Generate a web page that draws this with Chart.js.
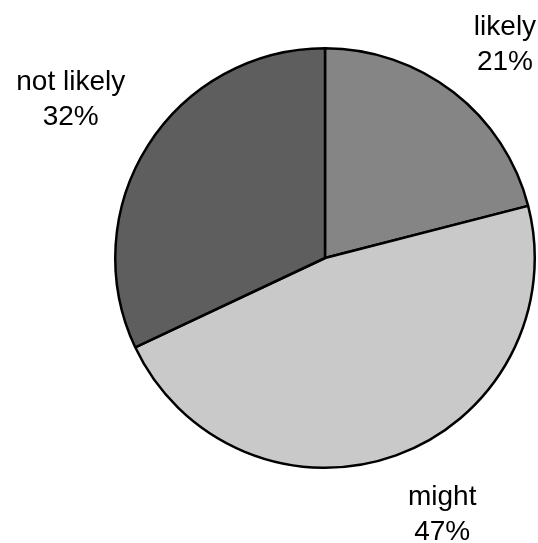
<!DOCTYPE html>
<html>
<head>
<meta charset="utf-8">
<script src="https://cdn.jsdelivr.net/npm/chart.js@4"></script>
<style>
html,body{margin:0;padding:0;background:#fff;}
#wrap{width:538px;height:543px;}
</style>
</head>
<body>
<div id="wrap"><canvas id="c" width="538" height="543"></canvas></div>
<script>
const categories = ["likely", "might", "not likely"];
const values = [21, 47, 32];
const sliceColors = ["#858585", "#c9c9c9", "#5e5e5e"];

// label placement (style only): distance factor from centre and pixel nudge
const labelLayout = [
  {f: 1.33, dx: 9, dy: 7},
  {f: 1.34, dx: 22, dy: -8},
  {f: 1.43, dx: -1, dy: 2}
];

const outsideLabels = {
  id: 'outsideLabels',
  afterDatasetsDraw(chart) {
    const ctx = chart.ctx;
    const meta = chart.getDatasetMeta(0);
    const total = values.reduce((a, b) => a + b, 0);
    ctx.save();
    ctx.fillStyle = '#000';
    ctx.font = '28px "Liberation Sans", Arial, sans-serif';
    ctx.textAlign = 'center';
    ctx.textBaseline = 'middle';
    meta.data.forEach((arc, i) => {
      const mid = (arc.startAngle + arc.endAngle) / 2;
      const L = labelLayout[i];
      const r = arc.outerRadius * L.f;
      const x = arc.x + Math.cos(mid) * r + L.dx;
      const y = arc.y + Math.sin(mid) * r + L.dy;
      const pct = Math.round(values[i] / total * 100) + '%';
      ctx.fillText(categories[i], x, y - 17);
      ctx.fillText(pct, x, y + 18);
    });
    ctx.restore();
  }
};

new Chart(document.getElementById('c'), {
  type: 'pie',
  data: {
    labels: categories,
    datasets: [{
      data: values,
      backgroundColor: sliceColors,
      borderColor: '#000',
      borderWidth: 2.5
    }]
  },
  options: {
    responsive: false,
    animation: false,
    layout: {padding: {left: 114, right: 2, top: 47, bottom: 74}},
    plugins: {
      legend: {display: false},
      tooltip: {enabled: false}
    }
  },
  plugins: [outsideLabels]
});
</script>
</body>
</html>
